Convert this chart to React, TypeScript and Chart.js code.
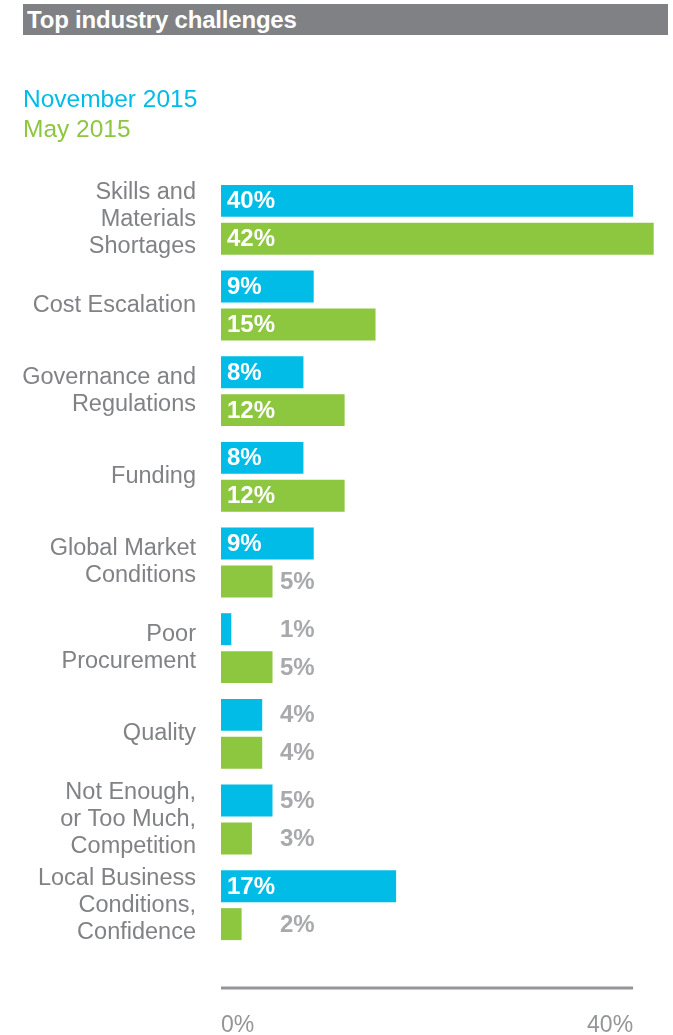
import React, { useEffect, useRef } from "react";
import { Chart, registerables } from "chart.js";

Chart.register(...registerables);

const categories: (string | string[])[] = [
  ["Skills and", "Materials", "Shortages"],
  "Cost Escalation",
  ["Governance and", "Regulations"],
  "Funding",
  ["Global Market", "Conditions"],
  ["Poor", "Procurement"],
  "Quality",
  ["Not Enough,", "or Too Much,", "Competition"],
  ["Local Business", "Conditions,", "Confidence"],
];
const november2015 = [40, 9, 8, 8, 9, 1, 4, 5, 17];
const may2015 = [42, 15, 12, 12, 5, 5, 4, 3, 2];
const seriesNames = ["November 2015", "May 2015"];
const xTickValues = [0, 40];

const BLUE = "#00bce6";
const GREEN = "#8dc63f";
const FONT = "'Liberation Sans', Arial, sans-serif";

const barLabelsPlugin = {
  id: "barLabels",
  afterDatasetsDraw(chart: any) {
    const ctx = chart.ctx;
    const xs = chart.scales.x;
    ctx.save();
    ctx.font = `bold 24px ${FONT}`;
    ctx.textBaseline = "middle";
    ctx.textAlign = "left";
    chart.data.datasets.forEach((ds: any, di: number) => {
      const meta = chart.getDatasetMeta(di);
      meta.data.forEach((bar: any, i: number) => {
        const v = ds.data[i];
        const text = `${v}%`;
        if (v >= 8) {
          ctx.fillStyle = "#ffffff";
          ctx.fillText(text, xs.getPixelForValue(0) + 6, bar.y + 1);
        } else {
          ctx.fillStyle = "#a7a9ac";
          ctx.fillText(text, xs.left + 59, bar.y + 1);
        }
      });
    });
    ctx.restore();
  },
};

const axisLinePlugin = {
  id: "axisLine",
  afterDraw(chart: any) {
    const ctx = chart.ctx;
    const xs = chart.scales.x;
    const y = chart.chartArea.bottom + 40;
    ctx.save();
    ctx.strokeStyle = "#939598";
    ctx.lineWidth = 3;
    ctx.beginPath();
    ctx.moveTo(xs.getPixelForValue(xTickValues[0]), y);
    ctx.lineTo(xs.getPixelForValue(xTickValues[xTickValues.length - 1]), y);
    ctx.stroke();
    ctx.restore();
  },
};

export default function App() {
  const canvasRef = useRef<HTMLCanvasElement | null>(null);

  useEffect(() => {
    document.body.style.margin = "0";
    const canvas = canvasRef.current;
    if (!canvas) return;
    const chart = new Chart(canvas, {
      type: "bar",
      data: {
        labels: categories,
        datasets: [
          {
            label: seriesNames[0],
            data: november2015,
            backgroundColor: BLUE,
            barPercentage: 0.842,
            categoryPercentage: 0.886,
          },
          {
            label: seriesNames[1],
            data: may2015,
            backgroundColor: GREEN,
            barPercentage: 0.842,
            categoryPercentage: 0.886,
          },
        ],
      },
      options: {
        indexAxis: "y",
        responsive: false,
        animation: false,
        devicePixelRatio: 1,
        layout: { padding: { top: 177, right: 9, bottom: 0, left: 0 } },
        plugins: {
          legend: { display: false },
          tooltip: { enabled: false },
        },
        scales: {
          y: {
            type: "category",
            position: "left",
            grid: { display: false, drawTicks: false },
            border: { display: false },
            ticks: {
              color: "#808285",
              padding: 25,
              crossAlign: "near",
              font: { family: FONT, size: 23.5, lineHeight: 27 / 23.5 },
            },
            afterFit: (s: any) => {
              s.width = 221;
              s.paddingTop = 0;
              s.paddingBottom = 0;
            },
          },
          x: {
            type: "linear",
            position: "bottom",
            min: 0,
            max: 43,
            grid: { display: false, drawTicks: false },
            border: { display: false },
            ticks: {
              align: "inner",
              color: "#939598",
              padding: 64,
              font: { family: FONT, size: 23 },
              callback: (v: any) => `${v}%`,
            },
            afterBuildTicks: (s: any) => {
              s.ticks = xTickValues.map((v) => ({ value: v }));
            },
            afterFit: (s: any) => {
              s.height = 87;
              s.paddingLeft = 0;
              s.paddingRight = 0;
            },
          },
        },
      } as any,
      plugins: [barLabelsPlugin, axisLinePlugin],
    });
    return () => chart.destroy();
  }, []);

  return (
    <div style={{ position: "relative", width: 673, height: 1035, overflow: "hidden" }}>
      <canvas
        ref={canvasRef}
        width={673}
        height={1035}
        style={{ position: "absolute", left: 0, top: 0, width: 673, height: 1035 }}
      />
      <div
        style={{
          position: "absolute",
          left: 23,
          top: 4,
          width: 645,
          height: 31,
          background: "#808184",
          color: "#ffffff",
          fontFamily: FONT,
          fontWeight: "bold",
          fontSize: 24,
          lineHeight: "31px",
          paddingLeft: 4,
          boxSizing: "border-box",
          letterSpacing: -0.2,
        }}
      >
        Top industry challenges
      </div>
      <div
        style={{
          position: "absolute",
          left: 23,
          top: 84,
          fontFamily: FONT,
          fontSize: 24.5,
          lineHeight: "30px",
        }}
      >
        <div style={{ color: BLUE }}>{seriesNames[0]}</div>
        <div style={{ color: GREEN }}>{seriesNames[1]}</div>
      </div>
    </div>
  );
}
